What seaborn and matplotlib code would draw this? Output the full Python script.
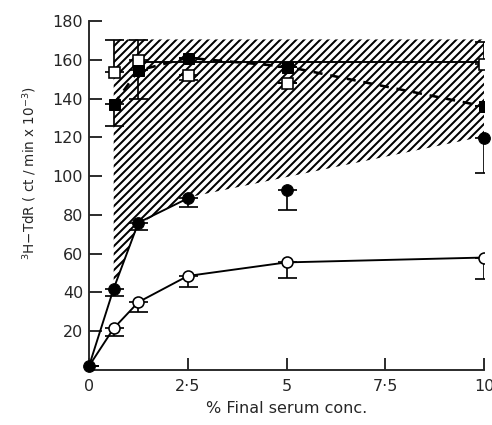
import numpy as np
import pandas as pd
import matplotlib
matplotlib.use("Agg")
import matplotlib.pyplot as plt
import seaborn as sns

# serum concentration (% final)
conc = [0, 0.625, 1.25, 2.5, 5, 10]

# open circles
open_circ = [2, 21.5, 35, 48.5, 55.5, 58]
open_circ_err = [0, 4, 5, 5.5, 8, 11]

# filled circles
fill_circ = [2, 42, 76, 88.5, 93, 119.5]
fill_circ_err = [0, 4, 4, 4.5, 10.5, 18]

# filled squares
sq_conc = [0.625, 1.25, 2.5, 5, 10]
fill_sq = [137, 154.5, 161, 156.5, 136]
fill_sq_err = [11, 14.5, 0, 0, 0]

# open squares
open_sq = [153.5, 160, 152, 148, 158]
open_sq_up = [16.5, 10, 0, 0, 11]
open_sq_dn = [0, 0, 2.5, 0, 0]

# plateau line through open squares
plateau_x = [1.25, 10]
plateau_y = [159, 159]

# hatched band
band_x = [0.625, 1.25, 2.5, 10]
band_low = [42, 75, 89, 120.5]
band_top = 170.5

xticks = [0, 2.5, 5, 7.5, 10]
xticklabels = ["0", "2·5", "5", "7·5", "10"]
yticks = [20, 40, 60, 80, 100, 120, 140, 160, 180]

sns.set_style("ticks")
DPI = 72  # 1 pt = 1 px
plt.rcParams["font.family"] = ["DejaVu Sans"]
plt.rcParams["hatch.linewidth"] = 2.0
plt.rcParams["hatch.color"] = "black"

fig = plt.figure(figsize=(492 / DPI, 425 / DPI), dpi=DPI)
ax = fig.add_axes([89 / 492, 55 / 425, 395 / 492, 349 / 425])

# hatched region
ax.fill_between(band_x, band_low, band_top, facecolor="white", edgecolor="black",
                hatch="///", linewidth=0, zorder=1)

df_oc = pd.DataFrame({"x": conc, "y": open_circ})
df_fc = pd.DataFrame({"x": conc[:4], "y": fill_circ[:4]})
df_fs = pd.DataFrame({"x": sq_conc, "y": fill_sq})
df_pl = pd.DataFrame({"x": plateau_x, "y": plateau_y})

lw = 1.9
sns.lineplot(data=df_oc, x="x", y="y", color="black", lw=lw, ax=ax, zorder=3)
sns.lineplot(data=df_fc, x="x", y="y", color="black", lw=lw, ax=ax, zorder=3)
sns.lineplot(data=df_pl, x="x", y="y", color="black", lw=lw, ax=ax, zorder=3)
sns.lineplot(data=df_fs, x="x", y="y", color="black", lw=2.6, ax=ax, zorder=3,
             linestyle=(0, (3.5, 3)))

ekw = dict(fmt="none", ecolor="black", elinewidth=1.7, capsize=9.5, capthick=1.7, zorder=2)
ax.errorbar(conc, open_circ, yerr=[open_circ_err, [0] * 6], **ekw)
ax.errorbar(conc, fill_circ, yerr=[fill_circ_err, [0] * 6], **ekw)
ax.errorbar(sq_conc, fill_sq, yerr=[fill_sq_err, [0] * 5], **ekw)
ax.errorbar(sq_conc, open_sq, yerr=[open_sq_dn, open_sq_up], **ekw)

ms = 11
ax.plot(sq_conc, open_sq, "s", ms=ms, mfc="white", mec="black", mew=1.6, zorder=4, ls="none")
ax.plot(sq_conc, fill_sq, "s", ms=ms, mfc="black", mec="black", mew=1.0, zorder=5, ls="none")
ax.plot(conc[1:], open_circ[1:], "o", ms=ms, mfc="white", mec="black", mew=1.6, zorder=5, ls="none")
ax.plot(conc, fill_circ, "o", ms=11.7, mfc="black", mec="black", zorder=5, ls="none",
        clip_on=False)

ax.set_xlim(0, 10)
ax.set_ylim(0, 180)
sns.despine(ax=ax)
for s in ("left", "bottom"):
    ax.spines[s].set_linewidth(1.9)
ax.set_xticks(xticks)
ax.set_xticklabels(xticklabels)
ax.set_yticks(yticks)
ax.tick_params(axis="both", direction="in", length=12.5, width=1.9, labelsize=16, pad=6)
ax.tick_params(axis="x", pad=9)

ax.set_xlabel("% Final serum conc.", fontsize=16)
ax.set_ylabel(r"$^{3}$H$-$TdR ( ct / min x 10$^{-3}$)", fontsize=13.5)
ax.yaxis.set_label_coords(-0.13, 0.565)
ax.xaxis.set_label_coords(0.5, -0.09)

fig.savefig("out.png", dpi=DPI)
